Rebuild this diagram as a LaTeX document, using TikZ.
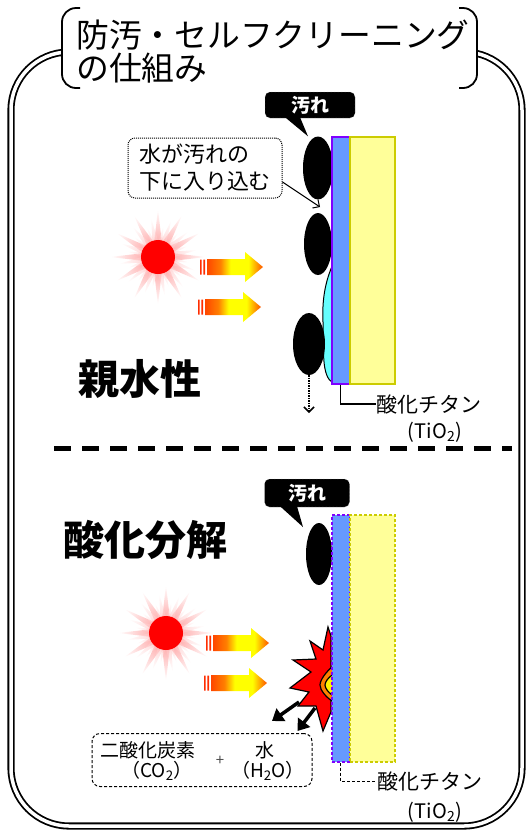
\documentclass[tikz,border=0pt]{standalone}
\usepackage{fontspec}
\newfontfamily\jp{Noto Sans CJK JP}
\usetikzlibrary{shapes.geometric,arrows.meta,positioning}

\definecolor{filmblue}{HTML}{6699FF}
\definecolor{filmedge}{HTML}{7F00FF}
\definecolor{basefill}{HTML}{FFFF99}
\definecolor{baseedge}{HTML}{CCCC00}
\definecolor{wetcyan}{HTML}{66FFFF}

% red -> yellow -> red light beam
\pgfdeclarehorizontalshading{heatbar}{100bp}{color(0bp)=(orange!55!red); color(25bp)=(orange!55!red);
  color(37bp)=(orange); color(46bp)=(yellow); color(62bp)=(yellow); color(75bp)=(orange!65!red);
  color(100bp)=(orange!65!red)}

\tikzset{
  beam/.pic={
    \fill[orange!35!red] (0,-7.5) rectangle (1.6,7.5) (3.4,-7.5) rectangle (5,7.5);
    \shade[shading=heatbar] (7,-8) -- (45,-8) -- (45,-15) -- (63,0) -- (45,15) -- (45,8) -- (7,8) -- cycle;
  },
  sun/.pic={
    \node[star, star points=12, star point ratio=3.2, minimum size=96pt, inner sep=0pt,
          shading=radial, inner color=red!45, outer color=white] (-glow) {};
    \node[star, star points=12, star point ratio=3.2, minimum size=80pt, inner sep=0pt, rotate=10,
          shading=radial, inner color=red!40, outer color=white, opacity=.6] (-glow2) {};
    \node[star, star points=12, star point ratio=3, minimum size=64pt, inner sep=0pt, rotate=20,
          shading=radial, inner color=red!45, outer color=white, opacity=.5] (-glow3) {};
    \fill[red] (0,0) circle (17);
  }
}

\begin{document}
\begin{tikzpicture}[x=1pt, y=-1pt,
  titletext/.style={inner sep=0pt, font=\jp\fontsize{32.8pt}{34pt}\selectfont},
  headtext/.style={inner sep=0pt, font=\jp\bfseries\fontsize{41pt}{41pt}\selectfont},
  tiotext/.style={inner sep=0pt, font=\jp\fontsize{21pt}{24pt}\selectfont},
  prodtext/.style={inner sep=0pt, font=\jp\fontsize{19pt}{21pt}\selectfont},
  film/.style={anchor=north west, draw=filmedge, fill=filmblue, line width=1.5pt, inner sep=0pt,
    minimum width=18pt, minimum height=247pt},
  substrate/.style={anchor=north west, draw=baseedge, fill=basefill, line width=1.5pt, inner sep=0pt,
    minimum width=45pt, minimum height=247pt},
  dirt/.style={ellipse, fill=black, inner sep=0pt},
  tagbox/.style={fill=black, draw=gray!70, densely dotted, rounded corners=5pt, inner sep=0pt,
    text=white, font=\jp\bfseries\fontsize{19pt}{19pt}\selectfont},
  notebox/.style={draw, densely dotted, line width=1pt, rounded corners=7pt, fill=white, align=left,
    minimum width=154pt, minimum height=60pt, inner sep=0pt, font=\jp\fontsize{22pt}{27pt}\selectfont},
  prodbox/.style={draw, densely dashed, line width=1pt, rounded corners=8pt,
    minimum width=220pt, minimum height=53pt},
]
\useasboundingbox (0,0) rectangle (527,831);

% outer frame
\draw[line width=1.8pt, double, double distance=3.5pt, rounded corners=58pt] (11,52) rectangle (522,826);

% title in brackets
\fill[white, rounded corners=14pt] (62,8) rectangle (477,88);
\draw[line width=1.8pt, rounded corners=14pt] (80,8) -- (62,8) -- (62,88) -- (80,88);
\draw[line width=1.8pt, rounded corners=14pt] (459,8) -- (477,8) -- (477,88) -- (459,88);
\node[titletext, anchor=base west] (ttl1) at (76,47) {防汚・セルフクリーニング};
\node[titletext, anchor=base west] (ttl2) at (76,80) {の仕組み};

% divider
\draw[line width=5pt, dash pattern=on 17pt off 11pt] (54,448) -- (512,448);

%% upper half
\node[headtext, anchor=base west] (hydro) at (78,394) {親水性};
\pic (sunA) at (158,257) {sun};
\pic at (200,267) {beam};
\pic at (198,307) {beam};

% water running under the dirt
\filldraw[fill=wetcyan, line width=1pt] (333,264) .. controls (325,282) and (322,300) .. (323,322)
  .. controls (324,350) and (321,376) .. (333,383);

\node[dirt, minimum width=30pt, minimum height=63pt] (dirtA) at (318,168) {};
\node[dirt, minimum width=28pt, minimum height=62pt] (dirtB) at (318,244) {};
\node[dirt, minimum width=32pt, minimum height=62pt] (dirtC) at (309,344) {};

\node[film] (filmA) at (331,136) {};
\node[substrate] (baseA) at (349,136) {};

\node[tagbox, minimum width=90pt, minimum height=26pt] (tagA) at (310,105) {汚れ};
\fill ([xshift=-25pt,yshift=1pt]tagA.south) -- ([xshift=-10pt,yshift=1pt]tagA.south)
  -- ([xshift=-10pt]dirtA.north) -- cycle;

\node[notebox] (noteA) at (205,168) {水が汚れの\\下に入り込む};
\coordinate (seepA) at (320,207);
\draw[line width=1pt, -{Straight Barb[length=5pt]}] ([yshift=-14pt]noteA.east) -- (seepA);

\coordinate (dripA) at (309,413);
\draw[line width=1.5pt, densely dotted, -{Straight Barb[length=5pt]}] (dirtC.south) -- (dripA);

\node[tiotext, anchor=west] (tioA) at (376,404) {酸化チタン};
\node[tiotext, font=\jp\fontsize{20pt}{22pt}\selectfont] (tioA2) at (435,432) {(TiO\textsubscript{2})};
\draw[line width=1.3pt] (filmA.south) |- (tioA.west);

%% lower half
\node[headtext, anchor=base west] (decomp) at (63,555) {酸化分解};
\pic (sunB) at (166,633) {sun};
\pic at (206,643) {beam};
\pic at (204,683) {beam};

% burst on the surface
\filldraw[fill=red, line width=1.2pt] (331,636) -- (328,627) -- (323,650) -- (310,641) -- (316,659)
  -- (293,660) -- (311,672) -- (290,688) -- (309,692) -- (298,706) -- (316,706) -- (323,731)
  -- (331,712) -- cycle;
\filldraw[fill=orange, line width=1.2pt] (332,667) .. controls (326,672) and (320,680) .. (320,685)
  .. controls (320,690) and (326,697) .. (332,701);
\filldraw[fill=yellow, line width=1.2pt] (332,675) .. controls (328,678) and (325,682) .. (325,685)
  .. controls (325,688) and (328,692) .. (332,695);

\node[dirt, minimum width=26pt, minimum height=62pt] (dirtD) at (319,554) {};

\node[film, densely dashed] (filmB) at (331,514) {};
\node[substrate, densely dashed] (baseB) at (349,514) {};

\node[tagbox, minimum width=85pt, minimum height=28pt] (tagB) at (307,493) {汚れ};
\coordinate (tipB) at (303,527);
\fill ([xshift=-27pt,yshift=1pt]tagB.south) -- ([xshift=-10pt,yshift=1pt]tagB.south) -- (tipB) -- cycle;

% products
\node[prodbox] (prodB) at (202,760) {};
\node[prodtext] (co2a) at (148,750) {二酸化炭素};
\node[prodtext] (co2b) at (157,771) {（CO\textsubscript{2}）};
\node[prodtext, text=black!70, font=\jp\fontsize{15pt}{15pt}\selectfont] (plus) at (220,761) {+};
\node[prodtext] (h2oa) at (265,750) {水};
\node[prodtext] (h2ob) at (268,771) {（H\textsubscript{2}O）};

\coordinate (fumeA) at (299,702);
\coordinate (fumeB) at (315,708);
\coordinate (outA) at (272,721);
\draw[line width=3.5pt, -{Triangle[length=11pt, width=15pt]}] (fumeA) -- (outA);
\draw[line width=3.5pt, -{Triangle[length=11pt, width=15pt]}] (fumeB) -- ([xshift=-15pt,yshift=2pt]prodB.north east);

\node[tiotext, anchor=west] (tioB) at (377,781) {酸化チタン};
\node[tiotext, font=\jp\fontsize{20pt}{22pt}\selectfont] (tioB2) at (435,812) {(TiO\textsubscript{2})};
\draw[line width=1pt, densely dashed] (filmB.south) |- (tioB.west);
\end{tikzpicture}
\end{document}
